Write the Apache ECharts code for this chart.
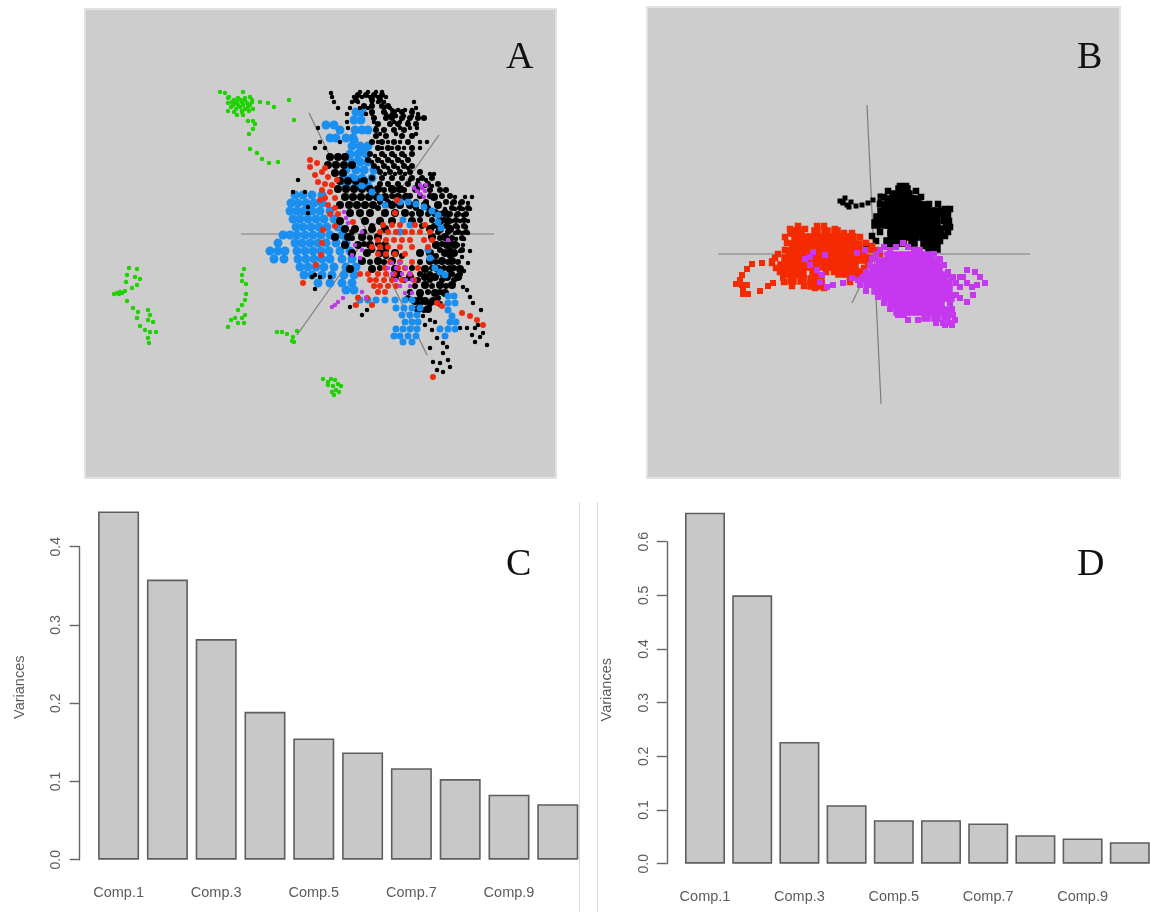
<!DOCTYPE html>
<html><head><meta charset="utf-8">
<style>html,body{margin:0;padding:0;background:#fff}#c{width:1150px;height:912px}#c canvas{filter:blur(0.55px)}</style>
<script src="https://cdn.jsdelivr.net/npm/echarts@6/dist/echarts.min.js"></script>
</head><body><div id="c"></div>
<script>
// Bar panels
const categories = ['Comp.1','Comp.2','Comp.3','Comp.4','Comp.5','Comp.6','Comp.7','Comp.8','Comp.9','Comp.10'];
const variancesC = [0.445,0.358,0.282,0.189,0.155,0.137,0.117,0.103,0.083,0.071];
const variancesD = [0.654,0.500,0.227,0.109,0.081,0.081,0.075,0.053,0.047,0.040];

// Panel A points. Row form: [y, x, x, ...]
const aGreen = [
 [92,220,243],[93,225],[97,229,250],[98,238,228,245],[100,234,245,252,241,289],[102,232,242,252,237,260],[103,235,268,228,247],
 [105,238,243,233,250],[107,248,274,231,240],[109,253,236,245],[111,228,242,249],[112,242,234],[115,237,243],
 [120,294],[121,248,253],[124,255],[129,253],[134,249],[149,250],[153,257],[159,262],[163,269],[162,278],
 [268,129],[269,137,244],[275,127,242],[277,135],[279,140],[281,242],[282,126],[284,246],[285,137],[288,132],[291,125],[292,120],[293,117,122],[294,114,119,246],
 [300,245],[301,127],[305,242],[308,133],[310,148,238],[312,138],[315,150,245],[318,137,242,235],[320,148,231],[322,153],[323,238,244],[326,140],[327,228],[330,145],[332,150,156,277,282],
 [331,297],[334,287],[337,293],[338,148],[341,292],[342,294],[343,149],
 [379,323,331],[380,335],[382,328],[384,338],[385,328],[386,341,333],[390,336],[392,332,339],[395,334]
];
const aBlueBase = [
 [112,356,362],[120,354,361],[125,326,334],[130,355,362,368,340],[138,330,336,346,353],[146,352,360,368],[154,350,358,366],[162,352,360,368],[170,346,356,364,374],[178,344,352,362,372],[186,346,356,368],
 [195,295,303,312,322],[203,291,298,306,314,322],[211,290,297,304,312,320,330],[219,293,300,308,316,324,334],[227,296,303,311,319,327,338],
 [235,283,290,297,305,313,321,330,342],[243,278,295,302,310,318,326,336,346],[251,270,278,285,297,305,313,321,329,340,350],[259,274,284,298,306,314,322,330,342,352],
 [267,300,308,316,324,334,346,356],[275,304,312,322,332,344,354],[283,318,330,342,352],[290,346,354]
];
const aBlackCore = [
 [157,330,338,345],[165,328,336,344,352],[173,335,343],[181,340,348,356,364],[189,338,346,354,362,370,378,392,400,416],
 [197,345,353,361,369,377,385,398,406,434],[205,340,349,357,365,373,392,400,410,425,438],[213,350,360,370,385,395,405,420,435,445],
 [221,340,365,380,392,412,440,448],[229,345,355,372,385,430,440,450],[237,335,348,362,378,432,445],[245,345,358,370,385,436,447,455],
 [253,352,367,380,395,420,430,445,454],[261,362,378,392,430,442,452],[269,350,372,395,425,438,450,460],[277,395,410,425,435,447,458],
 [285,425,440,452],[293,420,435,445],[301,415,425,433],[309,418,428]
];
const aBlackMid = [
 [95,358,366,374,382],[100,356,372,380],[106,364,372,382,388],[112,372,384,394,402,412],[118,374,386,392,402,410,418,424],
 [124,378,390,398,408,416],[130,376,384,394,404],[136,376,386,402,412],[142,372,382,394,408],[148,378,388,398,412],
 [154,370,382,392,402,412],[160,368,378,388,398,408],[166,374,384,394,404,412],[172,380,390,400,410,420],[178,372,382,392,402,412,422,432],
 [184,380,388,398,408,418,428,438],[190,384,394,404,430,440,446],[196,392,410,420,430,442,450],[202,380,388,416,426,446,454,462],
 [208,378,416,428,452,460,468],[214,412,428,440,450,458,466],[220,420,432,444,456,464],[226,372,422,434,446,456,464],
 [232,352,364,438,448,458,466],[238,352,370,440,452,462],[244,364,378,442,452],[250,372,386,440,450,462],[256,386,402,436,450],
 [262,370,384,420,436,448,458],[268,380,412,432,444,454],[274,400,420,430,442,452,460],[280,404,418,430,442,454],[286,415,432,446],
 [292,410,428,440],[298,408,420,438],[304,420,430,440],[310,424]
];
const aBlackTrail = [
 [92,360,368,376,382],[93,331],[97,332,354,362,370,378,386],[102,334,352,358,372,378,384,414],[108,338,350,360,368,384,390,416],
 [110,392,398,405,412],[114,347,366,372,386,392,418],[116,390,396,404,412],[122,347,374,394,400,408],[128,318,348,376,400,410,417],[134,380,396,416],
 [142,320,340,378,388,400,420,427],[148,315,325,382,392,404,420],[156,375,385,395,405],[162,372,382,392,402],[168,378,388,398,408],
 [174,385,395,405,430,434],[180,410,418,426,298],[186,425,432],[192,293,305],[197,455,465,472],[203,452,460,468],[207,308],[209,445,455,463,470],[213,308],
 [215,448,456,463],[221,452,460,468],[227,450,458,466],[233,455,462,468],[239,456,464],[245,458,463],[251,460,470],[257,462],[263,468],[271,464],
 [275,315],[277,312,320,330,460],[287,463],[289,315],[290,467],[297,358,470],[303,473],[305,355],[307,350],[310,367,481],[315,362],
 [316,423],[320,430],[322,435],[325,425,478],[328,440,460,467,475],[330,432],[333,483],[335,472],[337,480],[338,437],[342,475],[343,443],[345,487],
 [347,447],[348,430],[353,443],[360,448],[362,433],[363,440],[367,450],[370,437],[372,443]
];
const aBlueTop = [
 [202,400,408],[204,416],[207,424],[211,432],[215,438],[220,403],[222,438],[225,410],[228,441],[232,400],
 [140,355],[150,362],[160,358],[170,365],[178,355],[186,362],[192,372],[198,380],[205,385],
 [250,428],[258,430],[268,435],[272,440],[275,445],
 [296,448,454],[300,360,368,376,385,395,405,412],[303,448,455],[308,396,404,412,420],[310,448],[315,402,410,417],[316,452],
 [322,405,412,418,450,456],[329,396,403,410,417,440,448,455],[336,394,400,408,416,445],[342,403,412]
];
const aRed = [
 [160,310],[163,317],[167,310],[168,325],[172,322],[175,315],[177,328],[180,337],[182,318],[184,325],[185,332],[190,322],[192,330],[198,325,335],[200,320,397],[205,328],[208,335],[213,395],[214,338,330],
 [222,353],[225,383,392,400,415,425],[226,335],[230,323],[232,380,388,396,405,412,420,430],[240,378,386,394,402,410,424,432],[243,322],
 [247,372,380,388,400,412,428],[254,378,386,395,405],[255,321],[262,390,400,412],[265,316],[268,385,398,405,418],
 [274,360,368,378,386,394,410],[280,370,376,384,392,402,414],[283,303],[286,374,380,388,396],[292,378,385],[298,358,367],
 [303,437],[305,356,372],[306,442],[313,462],[316,470],[320,477],[325,483],[377,433]
];
const aPurple = [
 [185,420,426],[188,414,422],[191,417,425],[194,420],[197,424],[212,344],[218,346],[223,348],[232,362],[245,355],[250,362],[255,352],[258,360],
 [240,448],[263,392,400],[268,388,396,406],[274,392,402,410],[280,396,406,412],[286,400,410],[293,405,412],[292,362],[298,343,366],[302,338],[305,335],[307,332]
];
const aAxis1 = [[241,234],[494,234]];
const aAxis2 = [[309,113],[427,355]];
const aAxis3 = [[439,135],[297,335]];

// Panel B points
const bBlack = [
 [190,900,906],[195,894,901,908],[200,890,897,904,911,917],[206,886,893,900,907,914,920,926],
 [212,882,888,895,902,909,916,923,930,937,943],[218,878,885,892,899,906,913,920,928,936],[224,876,882,890,898,905,912,920,928,936],
 [230,892,900,908,916,924,932,940],[236,892,900,908,915,924,932,938],[242,888,895,902,913,925,933],[248,868,930,936]
];
const bBlackTail = [[198,845],[201,840],[202,843,851],[203,843,868],[205,847,862],[206,856],[207,849],[200,873],[196,880],[199,886],[201,880]];
const bBlackEdge = [[186,900,906],[191,888,916],[197,884,921],[204,880,929,938],[209,945,950],[215,944,948],[221,944,949],[227,946,950],[232,880,948],[236,872,945],[241,876,940],[246,888,925,936],[252,930]];
const bRed = [
 [232,792,800,816,826,836],[238,796,804,812,820,828,836,844,852],[245,794,802,810,818,826,834,842,850,858],
 [252,790,798,806,814,822,830,838,846,854,862],[259,786,794,802,810,818,826,834,842,850,858,866],
 [266,782,790,798,806,814,822,830,838,846,854],[273,786,794,802,814,840,848,856],[280,792,802,812,820],[285,812,820]
];
const bRedTail = [[261,772],[263,762],[264,752],[269,747],[275,742],[280,740],[284,736],[285,742,747],[290,743],[294,748,743],[291,760],[286,768],[283,773],[278,783]];
const bRedEdge = [[226,817,824,798],[229,790,805,835],[233,844,852],[237,785,860],[243,787,866],[246,872],[250,785,876,870],[254,778,880],[258,775,874],[263,772,868],[268,776,864],[272,780,862],[277,858,850],[282,850,784],[286,792,804],[288,815,824],[272,826,834]];
const bPurple = [
 [256,889,897,905,913,921,929],[262,880,888,896,904,912,920,928,936],
 [269,874,882,890,898,906,914,922,930,938],[276,870,878,886,894,902,910,918,926,934,942],
 [283,868,876,884,892,900,908,916,924,932,940,948],[290,876,884,892,900,908,916,924,932,940,948],
 [297,886,894,902,910,918,926,934,942,950],[304,892,900,908,916,924,932,940],[311,898,906,914,922,930,938,946],
 [317,926,936,946]
];
const bPurpleEdge = [
 [270,967],[272,975],[277,980,963,953,960],[275,943,948],[283,985,967,956],[285,977],[287,972,960],[295,973,956],[302,967],[298,960],
 [257,810],[259,805],[252,813],[255,825],[265,810],[270,817],[275,822],[282,820],[287,827],[285,833],[283,843],[278,852],[280,858],[277,863],[253,857],[250,865],
 [243,903],[247,896,908,884],[250,880,890,914,920],[254,934,876],[259,940,872],[265,870,944],[272,866,948],[279,862],[285,860,868],[291,866],[297,878],[303,884,950],[309,890,952],[315,898,904,953],[320,908,918,955],[323,936,943,950],[325,945,952]
];
const bAxis1 = [[718,254],[1030,254]];
const bAxis2 = [[867,105],[881,404]];
const bAxis3 = [[852,303],[875,255]];

const expand = rows => rows.flatMap(r => r.slice(1).map(x => [x, r[0]]));
const G = { green:'#1fd300', blue:'#1b8ff0', red:'#f02c10', purple:'#b93ce6', black:'#000000', bRed:'#f52a00', bPurple:'#c637f0' };

function pts(rows, color, size, axis, symbol) {
  return { type:'scatter', xAxisIndex:axis, yAxisIndex:axis, data:expand(rows), symbol:symbol||'circle', symbolSize:size,
           itemStyle:{color:color, opacity:1}, silent:true, z:3 };
}
function axisLine(points, axis) {
  return { type:'line', xAxisIndex:axis, yAxisIndex:axis, data:points, symbol:'none', silent:true, z:2,
           lineStyle:{color:'#7d7d7d', width:1.2} };
}
function bars(values, axis, w) {
  return { type:'bar', xAxisIndex:axis, yAxisIndex:axis, data:values, barWidth:w, clip:false, silent:true,
           itemStyle:{color:'#c8c8c8', borderColor:'#5e5e5e', borderWidth:1.6} };
}
const letter = (t,l,tp) => ({ text:t, left:l, top:tp, textStyle:{fontFamily:'Liberation Serif', fontWeight:'normal', fontSize:38, color:'#111'} });
const scatterX = (a,b) => ({ type:'value', gridIndex:a, min:b[0], max:b[1], show:false });
const scatterY = (a,b) => ({ type:'value', gridIndex:a, min:b[0], max:b[1], inverse:true, show:false });
const T = { color:'#5c5c5c', fontFamily:'Liberation Sans', fontSize:14 };
const catX = i => ({ type:'category', gridIndex:i, data:categories, axisLine:{show:false}, axisTick:{show:false},
  axisLabel:{interval:1, margin:26, color:T.color, fontFamily:T.fontFamily, fontSize:14.5} });
const valY = (i,max,shift) => ({ type:'value', gridIndex:i, min:0, max:max, interval:0.1, position:'left', offset:14.6, splitLine:{show:false},
  name:'Variances', nameLocation:'middle', nameRotate:90, nameGap:shift.gap,
  nameTextStyle:{color:T.color, fontFamily:T.fontFamily, fontSize:14.5, padding:[0,0,0,shift.pad]},
  axisLine:{show:true, lineStyle:{color:'#666', width:1.4}}, axisTick:{show:true, length:10, lineStyle:{color:'#666', width:1.4}},
  axisLabel:{rotate:90, margin:16, color:T.color, fontFamily:T.fontFamily, fontSize:T.fontSize, formatter:v=>v.toFixed(1)} });

const option = {
  animation:false, backgroundColor:'#fff',
  title:[letter('A',501,34), letter('B',1072,34), letter('C',501,541), letter('D',1072,541)],
  graphic:[
    {type:'line', shape:{x1:579.5,y1:502,x2:579.5,y2:912}, style:{stroke:'#dcdcdc', lineWidth:1}},
    {type:'line', shape:{x1:597.5,y1:502,x2:597.5,y2:912}, style:{stroke:'#dcdcdc', lineWidth:1}}
  ],
  grid:[
    {left:85, top:9, width:471, height:469, outerBoundsMode:'none', show:true, backgroundColor:'#cdcdcd', borderColor:'#e2e2e2', borderWidth:2},
    {left:647, top:7, width:473, height:471, outerBoundsMode:'none', show:true, backgroundColor:'#cdcdcd', borderColor:'#e2e2e2', borderWidth:2},
    {left:94.2, top:546.7, width:488, height:313, outerBoundsMode:'none'},
    {left:681.4, top:541.7, width:472, height:322, outerBoundsMode:'none'}
  ],
  xAxis:[scatterX(0,[85,556]), scatterX(1,[647,1120]), catX(2), catX(3)],
  yAxis:[scatterY(0,[9,478]), scatterY(1,[7,478]), valY(2,0.4,{gap:52,pad:32}), valY(3,0.6,{gap:52,pad:26})],
  series:[
    axisLine(aAxis1,0), axisLine(aAxis2,0), axisLine(aAxis3,0),
    pts(aGreen,G.green,4.5,0),
    pts(aBlueBase,G.blue,9,0),
    pts(aBlackCore,G.black,8,0),
    pts(aBlackMid,G.black,6,0),
    pts(aBlackTrail,G.black,4.5,0),
    pts(aBlueTop,G.blue,7,0),
    pts(aRed,G.red,6,0),
    pts(aPurple,G.purple,4.5,0),
    axisLine(bAxis1,1), axisLine(bAxis2,1), axisLine(bAxis3,1),
    pts(bBlack,G.black,9.5,1,'rect'),
    pts(bBlackEdge,G.black,6.5,1,'rect'),
    pts(bBlackTail,G.black,5,1,'rect'),
    pts(bRed,G.bRed,9.5,1,'rect'),
    pts(bRedEdge,G.bRed,6.5,1,'rect'),
    pts(bRedTail,G.bRed,6,1,'rect'),
    pts(bPurple,G.bPurple,9.5,1,'rect'),
    pts(bPurpleEdge,G.bPurple,6,1,'rect'),
    bars(variancesC,2,41),
    bars(variancesD,3,40)
  ]
};
echarts.init(document.getElementById('c'),null,{renderer:'canvas'}).setOption(option);
</script></body></html>
